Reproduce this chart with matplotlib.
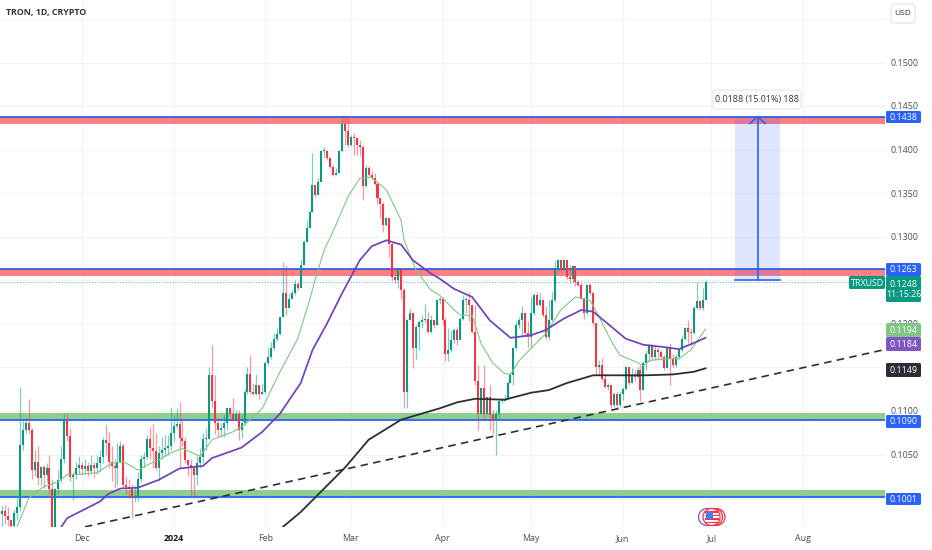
import numpy as np
import matplotlib
matplotlib.use("Agg")
import matplotlib.pyplot as plt
from matplotlib.patches import Circle, FancyBboxPatch, Rectangle

plt.rcParams["font.family"] = ["Open Sans", "DejaVu Sans"]

W, H = 932, 550
PANE_W, PANE_H = 885, 527

GREEN = "#089981"
RED = "#f23645"
BLUE = "#2962ff"
GRID = "#f2f3f5"
TEXT = "#4a4e59"

FIRST_DAY = -27  # days counted from 1 Dec 2023
FIRST_OPEN = 0.0982

closes = [
    .0985, .0980, .0975, .0968, .0983, .0990, .1061, .1078, .1086, .1078,
    .1032, .1042, .1023, .1036, .1027, .1035, .1010, .0960, .1010, .1021,
    .1045, .1090, .1071, .1024, .1026, .1035, .1038, .1033, .1037, .1031,
    .1038, .1034, .1040, .1047, .1067, .1063, .1042, .1037, .1035, .1042,
    .1060, .1015, .1013, .1011, .1000, .1002, .1022, .1045, .1047, .1068,
    .1057, .1054, .1035, .1052, .1055, .1058, .1060, .1075, .1083, .1085,
    .1069, .1066, .1044, .1038, .1035, .1027, .1040, .1047, .1068, .1068,
    .1141, .1111, .1086, .1078, .1080, .1086, .1103, .1097, .1090, .1097,
    .1078, .1086, .1122, .1143, .1122, .1120, .1130, .1120, .1122, .1155,
    .1162, .1172, .1183, .1188, .1208, .1235, .1218, .1229, .1235, .1246,
    .1241, .1268, .1294, .1310, .1329, .1359, .1348, .1363, .1398, .1398,
    .1390, .1380, .1371, .1373, .1398, .1430, .1421, .1405, .1415, .1413,
    .1405, .1403, .1358, .1379, .1371, .1367, .1361, .1344, .1338, .1313,
    .1321, .1292, .1254, .1250, .1262, .1239, .1122, .1205, .1212, .1172,
    .1197, .1202, .1204, .1206, .1191, .1204, .1199, .1227, .1229, .1204,
    .1166, .1170, .1181, .1193, .1181, .1206, .1227, .1227, .1222, .1191,
    .1134, .1097, .1126, .1097, .1116, .1095, .1090, .1097, .1111, .1111,
    .1114, .1132, .1141, .1172, .1199, .1204, .1212, .1189, .1185, .1212,
    .1233, .1222, .1227, .1210, .1185, .1204, .1227, .1262, .1273, .1262,
    .1273, .1254, .1252, .1266, .1248, .1245, .1229, .1212, .1245, .1235,
    .1201, .1151, .1153, .1137, .1128, .1130, .1107, .1120, .1107, .1120,
    .1125, .1151, .1132, .1141, .1139, .1147, .1124, .1155, .1166, .1176,
    .1162, .1170, .1168, .1162, .1149, .1172, .1160, .1153, .1162, .1170,
    .1183, .1195, .1191, .1189, .1218, .1226, .1218, .1227, .1248,
]
highs = [
    .0992, .0992, .0990, .0975, .0988, .1000, .1127, .1090, .1092, .1114,
    .1080, .1055, .1060, .1037, .1038, .1040, .1049, .1022, .1012, .1032,
    .1060, .1098, .1098, .1080, .1030, .1042, .1048, .1042, .1045, .1041,
    .1050, .1041, .1049, .1055, .1070, .1084, .1076, .1060, .1045, .1063,
    .1065, .1063, .1025, .1022, .1016, .1014, .1030, .1050, .1053, .1072,
    .1082, .1085, .1075, .1060, .1070, .1072, .1072, .1105, .1095, .1103,
    .1110, .1090, .1070, .1045, .1045, .1038, .1048, .1058, .1075, .1080,
    .1151, .1176, .1141, .1092, .1086, .1095, .1103, .1105, .1115, .1101,
    .1101, .1097, .1125, .1151, .1164, .1132, .1143, .1130, .1132, .1157,
    .1172, .1179, .1189, .1195, .1208, .1271, .1268, .1235, .1239, .1250,
    .1248, .1275, .1296, .1319, .1331, .1396, .1359, .1367, .1400, .1403,
    .1400, .1392, .1382, .1379, .1400, .1440, .1440, .1438, .1417, .1419,
    .1413, .1411, .1405, .1382, .1381, .1375, .1373, .1363, .1344, .1340,
    .1323, .1321, .1295, .1264, .1264, .1264, .1241, .1206, .1218, .1214,
    .1199, .1204, .1210, .1223, .1214, .1210, .1204, .1229, .1231, .1231,
    .1208, .1195, .1193, .1195, .1197, .1208, .1233, .1231, .1237, .1222,
    .1222, .1153, .1126, .1153, .1116, .1130, .1101, .1101, .1113, .1115,
    .1120, .1134, .1145, .1174, .1203, .1208, .1220, .1212, .1203, .1231,
    .1235, .1237, .1235, .1225, .1220, .1227, .1237, .1273, .1275, .1275,
    .1275, .1273, .1268, .1268, .1262, .1250, .1247, .1231, .1245, .1247,
    .1237, .1201, .1159, .1161, .1141, .1132, .1124, .1122, .1122, .1122,
    .1128, .1152, .1151, .1149, .1147, .1151, .1153, .1157, .1170, .1178,
    .1177, .1176, .1172, .1170, .1164, .1174, .1178, .1166, .1166, .1172,
    .1187, .1197, .1204, .1195, .1220, .1248, .1226, .1241, .1250,
]
lows = [
    .0965, .0970, .0968, .0960, .0960, .0975, .0985, .1055, .1075, .1075,
    .1022, .1025, .1015, .1015, .1012, .1018, .1005, .0950, .0950, .1005,
    .1018, .1040, .1065, .1020, .0998, .1022, .1028, .1027, .1028, .1025,
    .1028, .1024, .1028, .1030, .1040, .1050, .1035, .1020, .1012, .1015,
    .1040, .1012, .1005, .1000, .0977, .0995, .0997, .1018, .1035, .1045,
    .1045, .1035, .1032, .1020, .1045, .1048, .1050, .1055, .1065, .1080,
    .1035, .1060, .1040, .1025, .1003, .1000, .1015, .1035, .1040, .1055,
    .1068, .1105, .1074, .1070, .1070, .1070, .1078, .1093, .1088, .1088,
    .1067, .1069, .1084, .1120, .1120, .1118, .1118, .1114, .1120, .1120,
    .1153, .1160, .1170, .1180, .1187, .1208, .1210, .1218, .1229, .1233,
    .1239, .1248, .1268, .1294, .1310, .1329, .1346, .1350, .1363, .1390,
    .1388, .1379, .1370, .1371, .1374, .1397, .1405, .1403, .1404, .1394,
    .1394, .1394, .1342, .1357, .1369, .1365, .1359, .1338, .1321, .1306,
    .1312, .1277, .1250, .1247, .1241, .1229, .1103, .1103, .1204, .1149,
    .1160, .1170, .1195, .1201, .1189, .1189, .1195, .1199, .1223, .1199,
    .1157, .1157, .1168, .1178, .1176, .1193, .1204, .1212, .1203, .1189,
    .1130, .1078, .1097, .1090, .1097, .1078, .1074, .1049, .1090, .1109,
    .1111, .1113, .1132, .1130, .1170, .1195, .1185, .1187, .1172, .1172,
    .1210, .1220, .1220, .1208, .1183, .1182, .1203, .1225, .1260, .1260,
    .1262, .1252, .1247, .1247, .1243, .1243, .1228, .1206, .1210, .1233,
    .1199, .1141, .1141, .1134, .1126, .1124, .1103, .1105, .1102, .1105,
    .1113, .1124, .1130, .1132, .1134, .1139, .1111, .1124, .1147, .1156,
    .1158, .1158, .1158, .1158, .1147, .1149, .1130, .1150, .1151, .1160,
    .1168, .1181, .1178, .1176, .1188, .1217, .1216, .1216, .1227,
]

fast_ma_days = [-27, -22, -18, -13, -8, -5, -2, 5, 10, 14, 19, 22, 26, 30, 34, 40, 44, 51, 55, 61,
                67, 73, 77, 79, 82, 86, 90, 94, 98, 103, 108, 109, 113, 118, 121, 126, 128, 132,
                135, 139, 143, 145, 148, 152, 157, 162, 167, 172, 175, 179, 182, 187, 190, 192,
                198, 202, 206, 211]
fast_ma_vals = [.0935, .0967, .1000, .1013, .1019, .1027, .1027, .1029, .1040, .1042, .1032, .1038,
                .1044, .1052, .1057, .1048, .1067, .1076, .1084, .1103, .1145, .1183, .1227, .1252,
                .1285, .1314, .1346, .1367, .1368, .1354, .1319, .1296, .1262, .1239, .1233, .1216,
                .1210, .1210, .1178, .1155, .1143, .1142, .1158, .1172, .1189, .1216, .1231, .1227,
                .1208, .1181, .1164, .1157, .1152, .1158, .1160, .1160, .1170, .1194]
mid_ma_days = [-12, -7, -5, 6, 9, 13, 19, 26, 33, 41, 44, 54, 61, 67, 74, 78, 83, 88, 94, 98, 103,
               108, 112, 118, 121, 126, 132, 138, 145, 152, 157, 163, 169, 173, 178, 184, 190, 198,
               202, 207, 211]
mid_ma_vals = [.0948, .0967, .0977, .0996, .1005, .1011, .1012, .1021, .1034, .1037, .1046, .1058,
               .1076, .1097, .1132, .1170, .1201, .1235, .1273, .1289, .1296, .1291, .1273, .1258,
               .1252, .1240, .1231, .1204, .1184, .1187, .1193, .1206, .1216, .1214, .1200, .1183,
               .1176, .1173, .1171, .1178, .1184]
slow_ma_days = [60, 68, 74, 89, 97, 108, 117, 121, 127, 133, 143, 152, 158, 164, 173, 178, 191, 200,
                207, 211]
slow_ma_vals = [.0940, .0967, .0984, .1035, .1067, .1090, .1099, .1103, .1110, .1114, .1113, .1121,
                .1124, .1132, .1141, .1141, .1141, .1142, .1145, .1149]

trend_days = [1, 271]
trend_vals = [.0967, .1170]

price_ticks = [.1500, .1450, .1400, .1350, .1300, .1200, .1100, .1050]
grid_prices = [.1550, .1500, .1450, .1400, .1350, .1300, .1250, .1200, .1150, .1100, .1050, .1000]
month_days = [0, 31, 62, 91, 122, 152, 183, 213, 244]
month_labels = ["Dec", "2024", "Feb", "Mar", "Apr", "May", "Jun", "Jul", "Aug"]

red_zones = [(.1429, .1438), (.1255, .1263)]
green_zones = [(.1090, .1098), (.1001, .1009)]

measure_start = 221
measure_end = 236.2
measure_low = .1250
measure_high = .1438
last_price = .1248


def px(day):
    return 82 + 2.955 * day


def py(price):
    return 411 + (0.11 - price) * 8711


fig = plt.figure(figsize=(W / 100, H / 100), dpi=100, facecolor="white")
ax = fig.add_axes([0, 1 - PANE_H / H, PANE_W / W, PANE_H / H])
ax.set_xlim((0 - 82) / 2.955, (PANE_W - 82) / 2.955)
ax.set_ylim(0.11 - (PANE_H - 411) / 8711, 0.11 + 411 / 8711)
ax.axis("off")

# grid
for p in grid_prices:
    ax.axhline(p, color=GRID, lw=0.8, zorder=0)
for d in month_days:
    ax.axvline(d, color=GRID, lw=0.8, zorder=0)

# support / resistance zones
for low, high in red_zones:
    ax.axhspan(low, high, color="#fa7f87", lw=0, zorder=1)
    ax.axhline(high, color="#2a52e0", lw=1.2, zorder=1.5)
for low, high in green_zones:
    ax.axhspan(low, high, color="#8fcf8d", lw=0, zorder=1)
    ax.axhline(low, color=BLUE, lw=1.3, zorder=1.5)

# candles
c = np.array(closes)
o = np.r_[FIRST_OPEN, c[:-1]]
days = np.arange(FIRST_DAY, FIRST_DAY + len(c))
colors = [GREEN if a >= b else RED for a, b in zip(c, o)]
ax.vlines(days, lows, highs, colors=colors, lw=0.9, alpha=0.5, zorder=2)
ax.bar(days, np.maximum(np.abs(c - o), 0.00012), bottom=np.minimum(c, o), width=0.68,
       color=colors, lw=0, zorder=2.2)

# moving averages and trend line
ax.plot(fast_ma_days, fast_ma_vals, color="#81c784", lw=0.8, zorder=3)
ax.plot(mid_ma_days, mid_ma_vals, color="#6f42b8", lw=1.25, zorder=3.1)
ax.plot(slow_ma_days, slow_ma_vals, color="#2b2e38", lw=1.3, zorder=3.1)
ax.plot(trend_days, trend_vals, color="#2b2e38", lw=1.2, dashes=(4.5, 3.2), zorder=3)

ax.axhline(last_price, color=GREEN, lw=0.8, ls=(0, (1, 1.5)), alpha=0.6, zorder=1.6)

# long position measure
ax.add_patch(Rectangle((measure_start, measure_low), measure_end - measure_start,
                       measure_high - measure_low, color=BLUE, alpha=0.15, lw=0, zorder=4))
arrow_x = (measure_start + measure_end) / 2
ax.plot([measure_start, measure_end], [measure_low, measure_low], color=BLUE, lw=1.2, zorder=4.1)
ax.plot([arrow_x, arrow_x], [measure_low, measure_high], color=BLUE, lw=1.2, zorder=4.1)
ax.plot([arrow_x - 2.6, arrow_x, arrow_x + 2.6],
        [measure_high - .0008, measure_high, measure_high - .0008], color=BLUE, lw=1.1, zorder=4.1)

# overlay in pixels for the price scale, time scale and badges
ui = fig.add_axes([0, 0, 1, 1], facecolor="none")
ui.set_xlim(0, W)
ui.set_ylim(H, 0)
ui.axis("off")

for p in price_ticks:
    ui.text(904.5, py(p) + 0.8, f"{p:.4f}", color=TEXT, fontsize=6.4, ha="center", va="center", zorder=2)
for d, label in zip(month_days, month_labels):
    bold = label == "2024"
    ui.text(px(d), 538.5, label, color="#131722" if bold else TEXT, fontsize=6.4, ha="center",
            va="center", fontweight="bold" if bold else "normal", zorder=2)


def badge(x0, x1, y0, y1, color, text, size=6.4):
    ui.add_patch(FancyBboxPatch((x0 + 1, y0 + 1), x1 - x0 - 2, y1 - y0 - 2,
                                boxstyle="round,pad=1,rounding_size=1.5",
                                fc=color, ec="none", zorder=5))
    ui.text((x0 + x1) / 2, (y0 + y1) / 2 + 0.5, text, color="white", fontsize=size, ha="center",
            va="center", zorder=6)


badge(886, 921, 111, 123, BLUE, "0.1438")
badge(886, 921, 263, 276, BLUE, "0.1263")
badge(849, 885, 276, 289, GREEN, "TRXUSD")
badge(886, 921, 276, 302, GREEN, "0.1248\n11:15:26")
badge(886, 921, 323, 337, "#81c784", "0.1194")
badge(886, 921, 337, 351, "#7e57c2", "0.1184")
badge(886, 921, 363, 377, "#2b2e38", "0.1149")
badge(886, 921, 415, 428, BLUE, "0.1090")
badge(886, 921, 493, 505, BLUE, "0.1001")

# measure tooltip
ui.add_patch(FancyBboxPatch((714, 91), 86, 17, boxstyle="round,pad=1,rounding_size=3",
                            fc="white", ec="#e4e6eb", lw=0.8, zorder=5))
ui.text(757, 99.5, "0.0188 (15.01%) 188", color="#2f3340", fontsize=6.4, ha="center", va="center",
        zorder=6)

# header
ui.text(6, 12.5, "TRON, 1D, CRYPTO", color="#2f3340", fontsize=6.4, fontweight="bold", va="center")
ui.add_patch(FancyBboxPatch((892, 5), 22, 17, boxstyle="round,pad=1,rounding_size=3",
                            fc="white", ec="#e0e3eb", lw=0.8))
ui.text(903, 13.5, "USD", color="#2f3340", fontsize=6, ha="center", va="center")

# economic event icon
ui.add_patch(Circle((707, 517), 8.5, fc="white", ec="#7e57c2", lw=0.9, zorder=3))
for cx in (716.5, 714, 711.5):
    ui.add_patch(Circle((cx, 517), 8.5, fc="white", ec=RED, lw=0.9, zorder=3))
for sy in (511, 514.5, 518, 521.5):
    ui.add_patch(Rectangle((705, sy), 14, 1.6, fc=RED, ec="none", zorder=3.2))
ui.add_patch(Rectangle((705.5, 511.5), 7.5, 7.5, fc="#4a7fe0", ec="none", zorder=3.3))

fig.savefig("out.png", dpi=100)
plt.close(fig)
